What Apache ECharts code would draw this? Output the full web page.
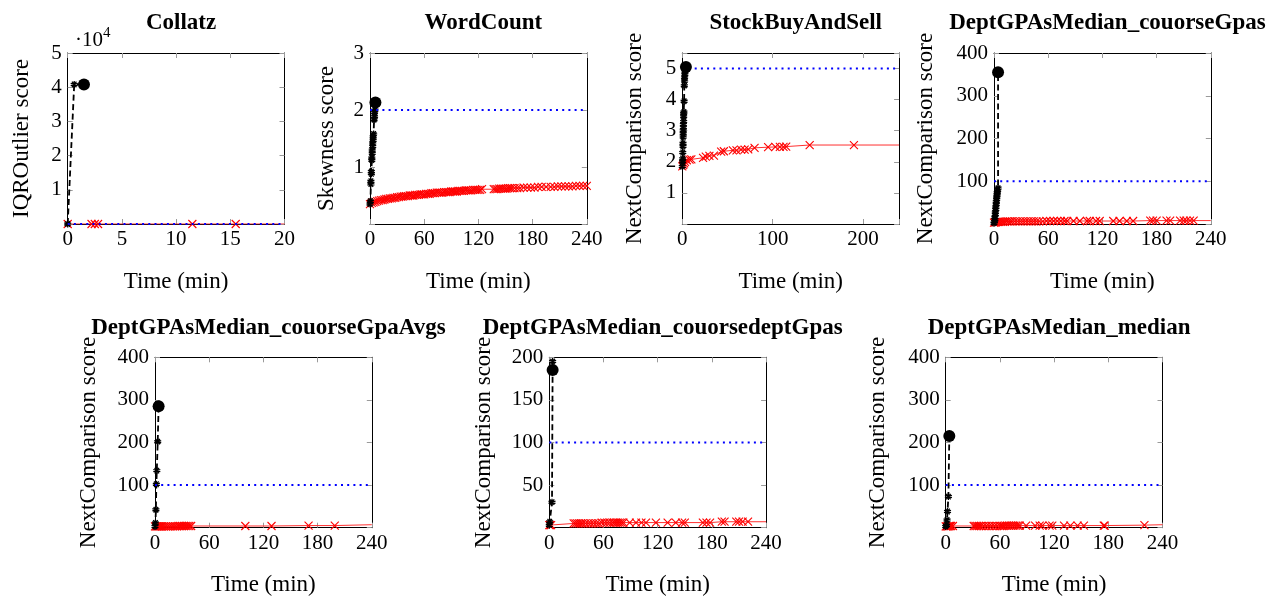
<!DOCTYPE html>
<html><head><meta charset="utf-8">
<script src="https://cdn.jsdelivr.net/npm/echarts@6/dist/echarts.min.js"></script>
<style>html,body{margin:0;padding:0;background:#fff}#c{width:1286px;height:598px}</style>
</head><body><div id="c"></div>
<script>
// ---------------- DATA ----------------
const titles = ['Collatz','WordCount','StockBuyAndSell','DeptGPAsMedian_couorseGpas',
  'DeptGPAsMedian_couorseGpaAvgs','DeptGPAsMedian_couorsedeptGpas','DeptGPAsMedian_median'];
const yNames = ['IQROutlier score','Skewness score','NextComparison score','NextComparison score',
  'NextComparison score','NextComparison score','NextComparison score'];
const xMax = [20,240,240,240,240,240,240];
const xStep = [5,60,100,60,60,60,60];
const yMax = [50000,3,5.5,400,400,200,400];
const yStep = [10000,1,1,100,100,50,100];
const thresholds = [3,2,5,100,100,100,100];

// Collatz
const collatzBlack = [[0,0],[0.6,40800]];
const collatzDot = [1.5,40800];
const collatzRed = [[0,0],[2.2,0],[2.5,0],[2.8,0],[11.5,0],[15.5,0]];
const collatzRedEnd = [20,0];

// WordCount
const wcBlack = [[0,0.35],[0.5,0.4],[1,0.7],[1,0.75],[1.5,0.88],[1.5,0.92],[2,1.12],[2,1.16],[2.5,1.24],[2.5,1.3],
  [3,1.36],[3,1.42],[3.5,1.47],[3.5,1.53],[4,1.58],[4.5,1.83],[5,1.88],[5,1.95],[5.5,2.0]];
const wcDot = [6,2.13];
const wcRed = [[0,0.35],[2,0.37],[4,0.38],[6,0.39],[8,0.40],[10,0.41],[12,0.42],[14,0.42],[16,0.43],[18,0.44],
  [20,0.44],[22,0.45],[24,0.45],[26,0.46],[28,0.46],[30,0.47],[32,0.47],[34,0.48],[36,0.48],[38,0.49],
  [40,0.49],[42,0.49],[44,0.50],[46,0.50],[48,0.50],[50,0.51],[52,0.51],[54,0.51],[56,0.52],[58,0.52],
  [60,0.52],[62,0.53],[64,0.53],[66,0.53],[68,0.54],[70,0.54],[72,0.54],[74,0.55],[76,0.55],[78,0.55],
  [80,0.55],[82,0.56],[84,0.56],[86,0.56],[88,0.56],[90,0.57],[92,0.57],[94,0.57],[96,0.57],[98,0.58],
  [100,0.58],[102,0.58],[104,0.58],[106,0.59],[108,0.59],[110,0.59],[112,0.59],[114,0.60],[116,0.60],[118,0.60],
  [120,0.60],[122,0.60],[124,0.61],[137,0.61],[139,0.61],[141,0.61],[143,0.62],[145,0.62],[147,0.62],[149,0.62],
  [151,0.62],[153,0.63],[155,0.63],[157,0.63],[160,0.63],[163,0.63],[166,0.63],[170,0.64],[174,0.64],[178,0.64],
  [182,0.64],[186,0.65],[190,0.65],[195,0.65],[200,0.65],[204,0.65],[208,0.66],[212,0.66],[216,0.66],[220,0.66],
  [224,0.66],[228,0.67],[232,0.67],[236,0.67],[240,0.67]];
const wcRedEnd = [240,0.67];

// StockBuyAndSell
const sbBlack = [[0,1.85],[0.3,2.0],[0.5,2.1],[0.5,2.3],[0.8,2.5],[0.8,2.6],[1,2.8],[1,2.9],[1,3.0],[1.2,3.1],
  [1.2,3.2],[1.5,3.3],[1.5,3.45],[1.5,3.55],[1.8,3.6],[2,3.95],[2.2,4.45],[2.5,4.6],[2.5,4.7],[2.8,4.8],[3,4.9]];
const sbDot = [4,5.05];
const sbRed = [[0,1.85],[1,1.9],[2,1.95],[3,2.0],[5,2.05],[8,2.07],[10,2.08],[23,2.13],[26,2.17],[30,2.19],
  [35,2.2],[43,2.33],[46,2.34],[56,2.37],[60,2.37],[65,2.39],[69,2.39],[73,2.4],[80,2.45],[95,2.47],
  [103,2.48],[108,2.48],[112,2.48],[115,2.49],[141,2.54],[190,2.54]];
const sbRedEnd = [240,2.54];

// DeptGPAsMedian_couorseGpas
const cgBlack = [[0,2],[0.5,5],[1,10],[1,16],[1.5,22],[1.5,28],[2,34],[2,40],[2.5,46],[2.5,52],[3,58],[3,63],
  [3.5,68],[3.5,73],[4,78],[4.5,84]];
const cgDot = [4.5,355];
const cgRed = [[0,3],[1,4],[2,4],[3,5],[4,5],[5,5],[6,5],[8,5],[10,5],[12,5],[14,6],[16,6],[18,6],[20,6],[23,6],
  [26,6],[29,6],[32,6],[35,6],[38,6],[41,6],[44,6],[47,6],[50,6],[54,6],[58,7],[62,7],[66,7],[70,7],[74,7],
  [78,7],[81,7],[88,7],[95,7],[103,7],[106,7],[113,7],[117,7],[132,7],[139,7],[147,7],[154,7],[173,8],[176,8],
  [180,8],[191,8],[195,8],[206,8],[210,8],[213,8],[217,8],[221,8]];
const cgRedEnd = [240,8];

// DeptGPAsMedian_couorseGpaAvgs
const caBlack = [[0,3],[0.5,11],[1,42],[1.5,102],[2,134],[3,202]];
const caDot = [4,285];
const caRed = [[0,3],[1,3],[2,3],[3,3],[4,3],[5,3],[6,3],[7,3],[8,3],[10,3],[12,3],[14,3],[16,3],[18,3],[20,3],
  [22,3],[24,3],[26,4],[28,4],[30,4],[32,4],[34,4],[36,4],[38,4],[40,4],[100,4],[129,4],[170,5],[199,5]];
const caRedEnd = [240,7];

// DeptGPAsMedian_couorsedeptGpas
const cdBlack = [[0,3],[0.5,7],[3,30],[3.7,195]];
const cdDot = [3.7,185];
const cdRed = [[0,3],[1,3],[2,3],[27,5],[29,5],[31,5],[33,5],[35,5],[37,5],[40,5],[43,5],[46,5],[49,5],[52,5],
  [55,5],[58,6],[61,6],[64,6],[67,6],[70,6],[72,6],[74,6],[76,6],[78,6],[80,6],[82,6],[89,6],[96,6],[102,6],
  [107,6],[118,6],[131,6],[140,6],[147,6],[150,6],[170,6],[174,6],[178,6],[191,7],[194,7],[207,7],[210,7],
  [214,7],[220,7]];
const cdRedEnd = [240,7];

// DeptGPAsMedian_median
const mdBlack = [[0,3],[1,6],[1.5,18],[2,38],[3,73]];
const mdDot = [4,215];
const mdRed = [[0,3],[1,3],[2,3],[3,3],[4,4],[5,4],[6,4],[8,4],[31,4],[33,4],[35,4],[37,4],[39,4],[42,4],[45,4],
  [48,4],[51,4],[54,4],[57,4],[60,4],[62,4],[64,4],[66,5],[68,5],[70,5],[72,5],[74,5],[76,5],[78,5],[80,5],
  [82,5],[89,5],[99,5],[104,5],[107,5],[115,5],[118,5],[131,5],[138,5],[146,5],[153,5],[175,5],[176,5],[220,6]];
const mdRedEnd = [240,7];

const blackSets = [collatzBlack, wcBlack, sbBlack, cgBlack, caBlack, cdBlack, mdBlack];
const dots = [collatzDot, wcDot, sbDot, cgDot, caDot, cdDot, mdDot];
const redSets = [collatzRed, wcRed, sbRed, cgRed, caRed, cdRed, mdRed];
const redEnds = [collatzRedEnd, wcRedEnd, sbRedEnd, cgRedEnd, caRedEnd, cdRedEnd, mdRedEnd];

// ---------------- LAYOUT / STYLE ----------------
const FONT = '"Liberation Serif","Times New Roman",serif';
const lefts = [67.7, 370, 682.3, 994, 155, 549.3, 945.7];
const tops = [53, 53, 53, 53, 357.3, 357.3, 357.3];
const heights = [171, 171, 171, 171, 170.4, 170.4, 170.4];
const W = 216.8;
const yNameGaps = [34, 32, 36, 57, 55, 54, 56];
const X_PATH = 'path://M0,0L10,10M10,0L0,10';
const STAR_PATH = 'path://M5,0L5,10M0.3,3.4L9.7,6.6M9.7,3.4L0.3,6.6M2,9L8,1M8,9L2,1';

function onStep(v, s){ return Math.abs(v/s - Math.round(v/s)) < 1e-6; }

const grid = [], xAxis = [], yAxis = [], series = [], title = [];
for (let i = 0; i < 7; i++) {
  grid.push({left: lefts[i], top: tops[i], width: W, height: heights[i], show: false, containLabel: false});
  title.push({text: titles[i], left: lefts[i] + W/2, top: tops[i] - 46, textAlign: 'center',
    textStyle: {fontFamily: FONT, fontSize: 23, fontWeight: 'bold', color: '#000'}});
  const tick = {show: true, inside: true, length: 5, lineStyle: {color: '#9a9a9a', width: 1}};
  const line = {show: true, onZero: false, lineStyle: {color: '#000', width: 1}};
  const xs = xStep[i], ys = yStep[i];
  xAxis.push({gridIndex: i, type: 'value', position: 'bottom', min: 0, max: xMax[i], interval: xs,
    axisLine: line, axisTick: tick, splitLine: {show: false},
    axisLabel: {fontFamily: FONT, fontSize: 21, color: '#000', margin: 5,
      formatter: v => onStep(v, xs) ? String(v) : ''},
    name: 'Time (min)', nameLocation: 'middle', nameGap: 46,
    nameTextStyle: {fontFamily: FONT, fontSize: 23, color: '#000'}});
  xAxis.push({gridIndex: i, type: 'value', position: 'top', min: 0, max: xMax[i], interval: xs,
    axisLine: line, axisTick: tick, splitLine: {show: false}, axisLabel: {show: false}});
  yAxis.push({gridIndex: i, type: 'value', position: 'left', min: 0, max: yMax[i], interval: ys,
    axisLine: line, axisTick: tick, splitLine: {show: false},
    axisLabel: {fontFamily: FONT, fontSize: 21, color: '#000', margin: 6,
      formatter: v => (v === 0 || !onStep(v, ys)) ? '' : String(i === 0 ? v/10000 : v)},
    name: yNames[i], nameLocation: 'middle', nameGap: yNameGaps[i], nameRotate: 90,
    nameTextStyle: {fontFamily: FONT, fontSize: 23, color: '#000'}});
  yAxis.push({gridIndex: i, type: 'value', position: 'right', min: 0, max: yMax[i], interval: ys,
    axisLine: line, axisTick: tick, splitLine: {show: false}, axisLabel: {show: false}});

  const xi = 2*i, yi = 2*i;
  // red series
  const redData = redSets[i].map(p => p.slice());
  redData.push({value: redEnds[i], symbol: 'none'});
  series.push({type: 'line', xAxisIndex: xi, yAxisIndex: yi, data: redData, symbol: X_PATH, symbolSize: 8,
    showAllSymbol: true, animation: false, z: 2, silent: true,
    itemStyle: {color: 'rgba(0,0,0,0)', borderColor: '#ff0000', borderWidth: 1.1},
    lineStyle: {color: '#ff3030', width: 1}});
  // black series
  const blkData = blackSets[i].map(p => p.slice());
  blkData.push({value: dots[i], symbol: 'none'});
  series.push({type: 'line', xAxisIndex: xi, yAxisIndex: yi, data: blkData, symbol: STAR_PATH, symbolSize: 7,
    showAllSymbol: true, animation: false, z: 3, silent: true,
    itemStyle: {color: 'rgba(0,0,0,0)', borderColor: '#000', borderWidth: 1.3},
    lineStyle: {color: '#000', width: 1.8, type: [6, 3.5]}});
  // threshold
  series.push({type: 'line', xAxisIndex: xi, yAxisIndex: yi, data: [[0, thresholds[i]], [xMax[i], thresholds[i]]],
    symbol: 'none', animation: false, z: 4, silent: true,
    lineStyle: {color: '#0000ff', width: 2, type: [2, 4.2]}});
  // final dot
  series.push({type: 'scatter', xAxisIndex: xi, yAxisIndex: yi, data: [dots[i]], symbol: 'circle', symbolSize: 12,
    animation: false, z: 5, silent: true, itemStyle: {color: '#000', opacity: 1}});
}

const chart = echarts.init(document.getElementById('c'), null, {renderer: 'canvas'});
chart.setOption({
  backgroundColor: '#fff', animation: false,
  title, grid, xAxis, yAxis, series,
  graphic: [
    {type: 'text', left: 75, top: 30, style: {text: '\u00B710', fontFamily: FONT, fontSize: 21, fill: '#000'}},
    {type: 'text', left: 103, top: 26, style: {text: '4', fontFamily: FONT, fontSize: 15, fill: '#000'}}
  ]
});
</script></body></html>
